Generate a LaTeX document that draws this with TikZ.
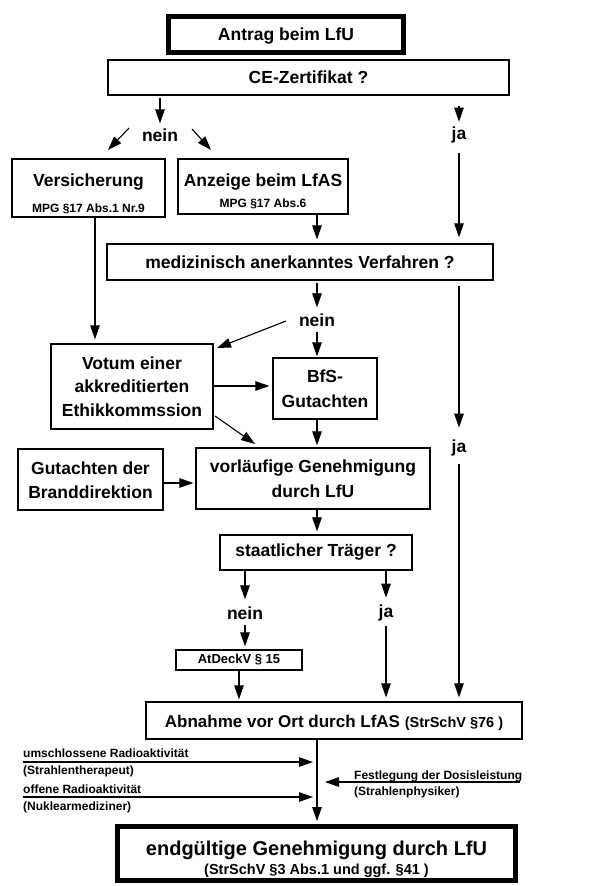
\documentclass[tikz,border=0pt]{standalone}
\usepackage{fontspec}
\setmainfont{Liberation Sans}
\usetikzlibrary{arrows.meta}
\begin{document}
\begin{tikzpicture}[x=1pt,y=-1pt,
  box/.style={draw, line width=1.3pt, inner sep=0pt, align=center,
    font=\bfseries\fontsize{17.5}{24}\selectfont},
  thickbox/.style={box, line width=5pt},
  lbl/.style={inner sep=0pt, font=\bfseries\fontsize{17.5}{20}\selectfont},
  small/.style={inner sep=0pt, anchor=base west, font=\bfseries\fontsize{12}{14}\selectfont},
  arr/.style={line width=1.1pt, -{Triangle[length=14pt,width=9.5pt]}},
  ln/.style={line width=1.1pt}]
\useasboundingbox (0,0) rectangle (596,886);

% boxes
\node[thickbox, minimum width=235, minimum height=36, text depth=1pt] (antrag) at (286,34.5) {Antrag beim LfU};
\node[box, minimum width=401, minimum height=35] (ce) at (308.5,77.5) {CE-Zertifikat ?};
\node[box, minimum width=153, minimum height=58] (vers) at (88.5,188)
  {\rule{0pt}{25pt}Versicherung\\[2pt]{\fontsize{12}{14}\selectfont MPG §17 Abs.1 Nr.9}};
\node[box, minimum width=170, minimum height=55] (anz) at (263,186.5)
  {\rule{0pt}{23pt}Anzeige beim LfAS\\[-3pt]{\fontsize{12}{14}\selectfont MPG §17 Abs.6}};
\node[box, minimum width=386, minimum height=36] (med) at (300,262) {medizinisch anerkanntes Verfahren ?};
\node[box, minimum width=162, minimum height=85] (votum) at (132,386.5)
  {Votum einer\\[-0.5pt]akkreditierten\\[-0.5pt]Ethikkommssion};
\node[box, minimum width=104, minimum height=61] (bfs) at (325,388.5) {BfS-\\[1pt]Gutachten};
\node[box, minimum width=234, minimum height=61] (vorl) at (313,478.5) {vorläufige Genehmigung\\[1pt]durch LfU};
\node[box, minimum width=145, minimum height=61] (brand) at (90.5,479.5) {\rule{0pt}{15pt}Gutachten der\\[0pt]Branddirektion};
\node[box, minimum width=192, minimum height=35] (staat) at (316,552.5) {staatlicher Träger ?};
\node[box, minimum width=126, minimum height=20, font=\bfseries\fontsize{13}{15}\selectfont] (atd) at (239,660) {AtDeckV § 15};
\node[box, minimum width=376, minimum height=37, font=\bfseries\fontsize{17}{20}\selectfont] (abn) at (334,720.5)
  {\rule{0pt}{16pt}Abnahme vor Ort durch LfAS {\fontsize{14.5}{16}\selectfont (StrSchV §76 )}};
\node[thickbox, minimum width=398, minimum height=54, font=\bfseries\fontsize{20}{19}\selectfont] (fin) at (316.5,853.5)
  {\rule{0pt}{27pt}endgültige Genehmigung durch LfU\\[0pt]{\fontsize{14.5}{16}\selectfont (StrSchV §3 Abs.1 und ggf. §41 )}};

% labels
\node[lbl] (n1) at (160,135) {nein};
\node[lbl] (j1) at (459,135) {ja};
\node[lbl] (n2) at (317,320) {nein};
\node[lbl] (j2) at (459,448) {ja};
\node[lbl] (n3) at (245,613) {nein};
\node[lbl] (j3) at (386,613) {ja};

% side labels
\node[small] (u1) at (23,757) {umschlossene Radioaktivität};
\node[small] (u2) at (23,774) {(Strahlentherapeut)};
\node[small] (o1) at (23,793) {offene Radioaktivität};
\node[small] (o2) at (23,810) {(Nuklearmediziner)};
\node[small] (f1) at (354,779) {Festlegung der Dosisleistung};
\node[small] (f2) at (354,795) {(Strahlenphysiker)};

% coordinates for free ends
\coordinate (dl1) at (129,128); \coordinate (dl2) at (108,150);
\coordinate (dr1) at (192,129); \coordinate (dr2) at (211,150);
\coordinate (nv) at (286,321); \coordinate (nvt) at (217,348);
\coordinate (vs) at (215,416); \coordinate (vt) at (255,444);
\coordinate (ul) at (23,762); \coordinate (ol) at (23,797); \coordinate (fl) at (520,782);
\coordinate (ut) at (313,762); \coordinate (ot) at (313,797); \coordinate (ft) at (325,782);

% connectors
\draw[arr, shorten <=2pt, shorten >=5pt] (ce.south -| n1) -- (n1.north);
\draw[arr, shorten <=10pt, shorten >=5pt] (ce.south -| j1) -- (j1.north);
\draw[arr] (dl1) -- (dl2);
\draw[arr] (dr1) -- (dr2);
\draw[arr, shorten <=10pt, shorten >=6pt] (j1.south) -- (med.north -| j1);
\draw[arr, shorten >=4pt] (anz.south -| n2) -- (med.north -| n2);
\draw[arr, shorten >=4pt] (vers.south -| 95,0) -- (votum.north -| 95,0);
\draw[arr, shorten <=2pt, shorten >=6pt] (med.south -| n2) -- (n2.north);
\draw[arr] (nv) -- (nvt);
\draw[arr, shorten <=5pt, shorten >=1pt] (n2.south) -- (bfs.north -| n2);
\draw[arr, shorten >=3pt] (votum.east |- 0,386) -- (bfs.west |- 0,386);
\draw[arr] (vs) -- (vt);
\draw[arr, shorten >=2pt] (bfs.south -| n2) -- (vorl.north -| n2);
\draw[arr, shorten <=5pt, shorten >=12pt] (med.south -| j2) -- (j2.north);
\draw[arr, shorten <=8pt, shorten >=4pt] (j2.south) -- (abn.north -| j2);
\draw[arr, shorten >=2pt] (brand.east |- 0,483) -- (vorl.west |- 0,483);
\draw[arr, shorten >=3pt] (vorl.south -| n2) -- (staat.north -| n2);
\draw[arr, shorten >=7pt] (staat.south -| n3) -- (n3.north);
\draw[arr, shorten >=7pt] (staat.south -| j3) -- (j3.north);
\draw[arr, shorten <=5pt, shorten >=3pt] (n3.south) -- (atd.north -| n3);
\draw[arr, shorten <=5pt, shorten >=4pt] (j3.south) -- (abn.north -| j3);
\draw[arr, shorten >=2pt] (atd.south) -- (abn.north -| atd);
\draw[arr, shorten >=3pt] (abn.south -| n2) -- (fin.north -| n2);
\draw[arr] (ul) -- (ut);
\draw[arr] (ol) -- (ot);
\draw[arr] (fl) -- (ft);
\end{tikzpicture}
\end{document}
